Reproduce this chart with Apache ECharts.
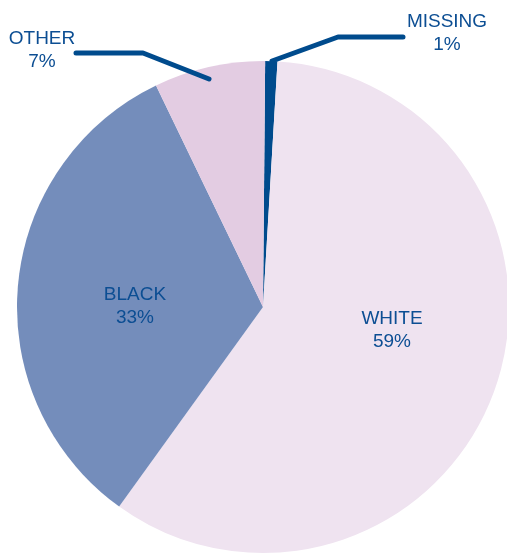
<!DOCTYPE html>
<html>
<head>
<meta charset="utf-8">
<script src="https://cdn.jsdelivr.net/npm/echarts@6/dist/echarts.min.js"></script>
<style>
  html, body { margin: 0; padding: 0; background: #fff; }
  #chart { width: 507px; height: 554px; }
</style>
</head>
<body>
<div id="chart"></div>
<script>
  // shares (clockwise from 12 o'clock)
  var categories = ['MISSING', 'WHITE', 'BLACK', 'OTHER']
  var shares = [0.8, 59.0, 32.9, 7.3]
  var sliceColors = ['#004b8d', '#efe3f0', '#748dbb', '#e3cce2']

  var textColor = '#0c4e93'
  var outsideNames = ['MISSING', 'OTHER']

  var chart = echarts.init(document.getElementById('chart'))

  function isOutside(name) {
    return outsideNames.indexOf(name) >= 0
  }

  var labelStyle = {
    color: textColor,
    fontFamily: 'Liberation Sans',
    fontSize: 19,
    lineHeight: 23,
    align: 'center',
    formatter: function (p) {
      return p.name + '\n' + Math.round(p.value) + '%'
    }
  }

  // slices, with the two inside labels
  var pieData = categories.map(function (name, i) {
    return {
      name: name,
      value: shares[i],
      itemStyle: { color: sliceColors[i] },
      label: { show: !isOutside(name), position: 'inside' },
      labelLine: { show: false }
    }
  })

  // same slices again, transparent, only to carry the leader lines on top
  var overlayData = categories.map(function (name, i) {
    return {
      name: name,
      value: shares[i],
      itemStyle: { color: 'rgba(0,0,0,0)' },
      label: { show: isOutside(name), position: 'outside' },
      labelLine: { show: isOutside(name) }
    }
  })

  var common = {
    type: 'pie',
    center: [263, 307],
    radius: 246,
    startAngle: 89.5,
    clockwise: true,
    avoidLabelOverlap: false,
    emphasis: { disabled: true },
    silent: true
  }

  chart.setOption({
    animation: false,
    series: [
      Object.assign({}, common, {
        z: 2,
        data: pieData,
        label: labelStyle,
        labelLayout: function (params) {
          if (categories[params.dataIndex] === 'WHITE') {
            return { x: 392, y: 330, align: 'center', verticalAlign: 'middle' }
          }
          return { x: 135, y: 306, align: 'center', verticalAlign: 'middle' }
        }
      }),
      Object.assign({}, common, {
        z: 5,
        data: overlayData,
        label: labelStyle,
        labelLine: {
          lineStyle: { color: '#004b8d', width: 5, cap: 'round', join: 'round' }
        },
        labelLayout: function (params) {
          if (categories[params.dataIndex] === 'MISSING') {
            return { x: 447, y: 33, align: 'center', verticalAlign: 'middle',
              labelLinePoints: [[272, 61], [338, 37], [403, 37]] }
          }
          return { x: 42, y: 50, align: 'center', verticalAlign: 'middle',
            labelLinePoints: [[209, 79], [143, 53], [76, 53]] }
        }
      })
    ]
  })
</script>
</body>
</html>
